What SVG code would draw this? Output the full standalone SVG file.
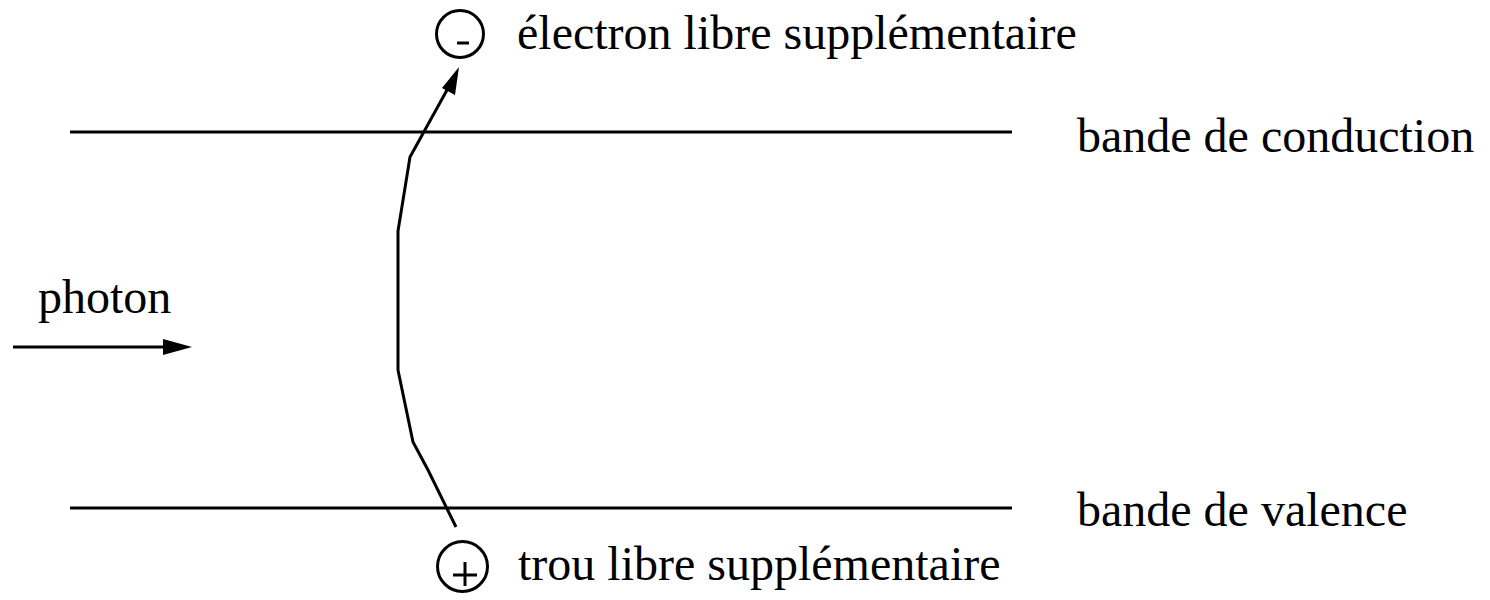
<svg xmlns="http://www.w3.org/2000/svg" width="1490" height="600" viewBox="0 0 1490 600">
<style>
text{font-family:"Liberation Serif","Times New Roman",serif;font-size:48px;fill:#000}
.ln{stroke:#000;stroke-width:3;fill:none}
</style>
<rect width="1490" height="600" fill="#fff"/>
<g id="bands">
<line class="ln" x1="70" y1="132" x2="1012" y2="132"/>
<line class="ln" x1="70" y1="508" x2="1012" y2="508"/>
</g>
<g id="connectors">
<polyline class="ln" points="456,527 428,470 413,442 398,370 398,231 410,157 447,90"/>
<polygon points="459,67 442,88 455,95" fill="#000"/>
<line class="ln" x1="13" y1="347" x2="165" y2="347"/>
<polygon points="192,347 163,339 163,355" fill="#000"/>
</g>
<g id="electron">
<circle class="ln" cx="460" cy="34" r="23.5"/>
<line class="ln" x1="457" y1="43" x2="469" y2="43"/>
<text x="517" y="49">électron libre supplémentaire</text>
</g>
<g id="hole">
<circle class="ln" cx="462.5" cy="566.5" r="25"/>
<line class="ln" x1="453" y1="575" x2="477" y2="575"/>
<line class="ln" x1="465" y1="562" x2="465" y2="586"/>
<text x="518" y="580">trou libre supplémentaire</text>
</g>
<g id="labels">
<text x="1077" y="152">bande de conduction</text>
<text x="1077" y="526">bande de valence</text>
<text x="38" y="313">photon</text>
</g>
</svg>
